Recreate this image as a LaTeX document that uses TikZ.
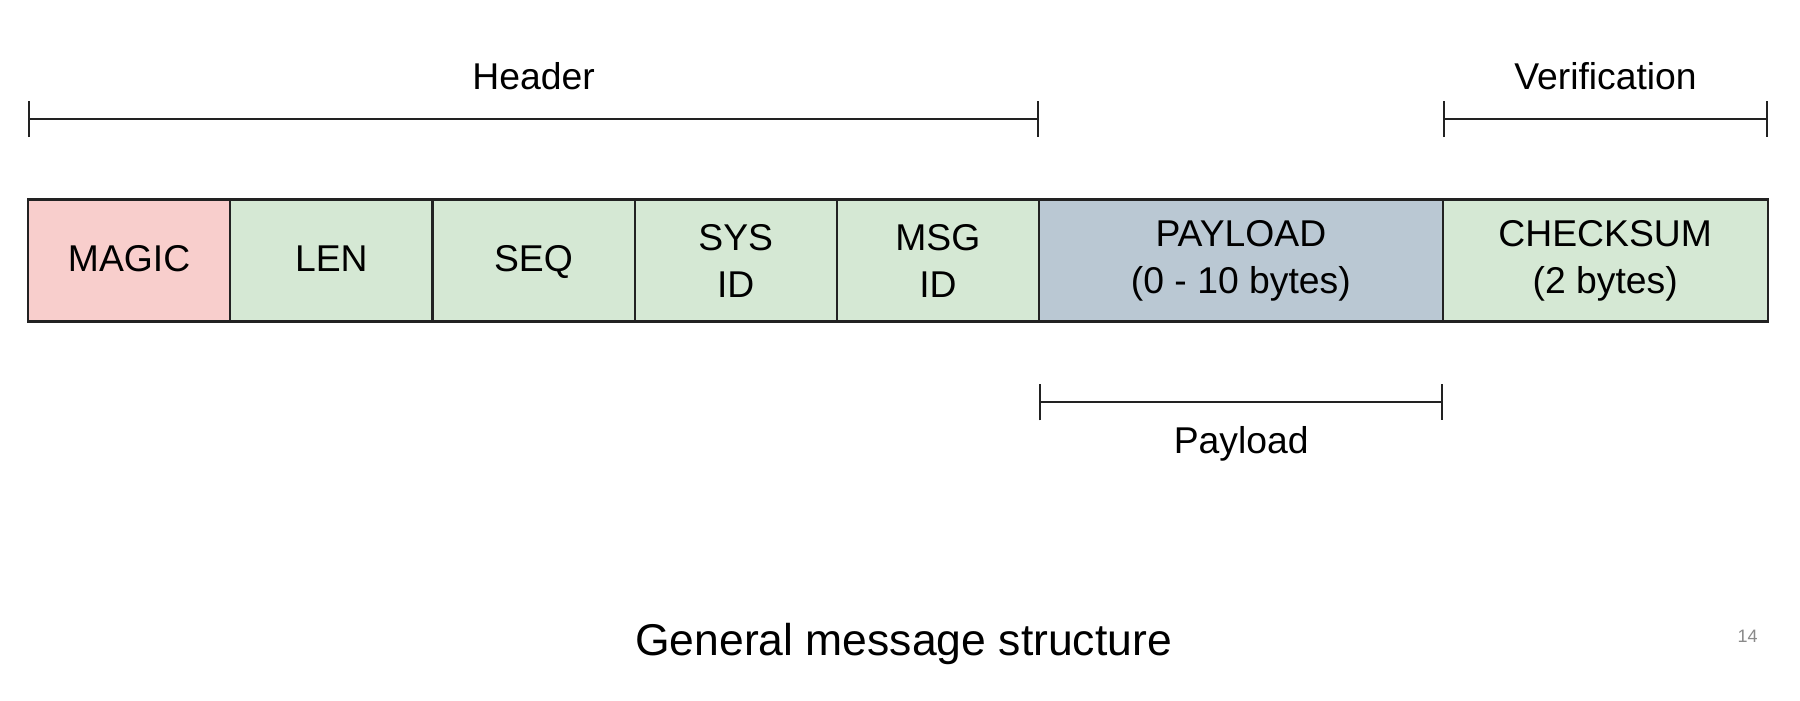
\documentclass[tikz,border=0pt]{standalone}
\usepackage{fontspec}
\setmainfont{Liberation Sans}
\usetikzlibrary{positioning,arrows.meta}

\definecolor{magicred}{HTML}{F8CECC}
\definecolor{fieldgreen}{HTML}{D5E8D4}
\definecolor{payblue}{HTML}{BAC8D3}
\definecolor{edgegray}{HTML}{222222}
\definecolor{pagegray}{HTML}{8A8A8A}

\begin{document}
\begin{tikzpicture}[x=1pt, y=-1pt,
  field/.style={draw=edgegray, line width=2.2pt, minimum height=122pt, inner sep=0pt,
    outer sep=0pt, align=center, font=\fontsize{37.3}{47}\selectfont},
  oneline/.style={text height=27.2pt, text depth=5pt},
  span/.style={draw=edgegray, line width=2.2pt, {Bar[width=36pt]}-{Bar[width=36pt]}},
  lbl/.style={font=\fontsize{37.3}{47}\selectfont}]
  % page with its margins
  \useasboundingbox[fill=white] (0,0) rectangle (1800,701);

  % cell width of the one-byte fields
  \def\cw{202.2pt}

  % message fields, left to right
  \node[field, oneline, fill=magicred, minimum width=\cw, anchor=north west] (magic) at (28,199.5) {MAGIC};
  \node[field, oneline, fill=fieldgreen, minimum width=\cw, right=0pt of magic] (len) {LEN};
  \node[field, oneline, fill=fieldgreen, minimum width=\cw, right=0pt of len] (seq) {SEQ};
  \node[field, fill=fieldgreen, minimum width=\cw, right=0pt of seq] (sysid) {SYS\\ID};
  \node[field, fill=fieldgreen, minimum width=\cw, right=0pt of sysid] (msgid) {MSG\\ID};
  \node[field, fill=payblue, minimum width=403.7pt, right=0pt of msgid] (payload) {PAYLOAD\\(0 - 10 bytes)};
  \node[field, fill=fieldgreen, minimum width=325pt, right=0pt of payload] (checksum) {CHECKSUM\\(2 bytes)};

  % rows of the spans
  \coordinate (hdrrow) at (0,119);
  \coordinate (payrow) at (0,402.3);
  \coordinate (hdrL) at (magic.west |- hdrrow);
  \coordinate (hdrR) at (msgid.east |- hdrrow);
  \coordinate (verL) at (checksum.west |- hdrrow);
  \coordinate (verR) at (checksum.east |- hdrrow);
  \coordinate (payL) at (payload.west |- payrow);
  \coordinate (payR) at (payload.east |- payrow);

  % spans
  \draw[span] (hdrL) -- (hdrR);
  \draw[span] (verL) -- (verR);
  \draw[span] (payL) -- (payR);

  % labels
  \node[lbl] (header) at (533.6,76) {Header};
  \node[lbl] (verif) at (1605.5,76) {Verification};
  \node[lbl, anchor=base] (paylbl) at (1241.2,453.3) {Payload};

  % caption and page number
  \node[anchor=base, font=\fontsize{44.5}{52}\selectfont] (title) at (903.6,655) {General message structure};
  \node[anchor=base, text=pagegray, font=\fontsize{18}{22}\selectfont] (pageno) at (1747.5,642) {14};
\end{tikzpicture}
\end{document}
